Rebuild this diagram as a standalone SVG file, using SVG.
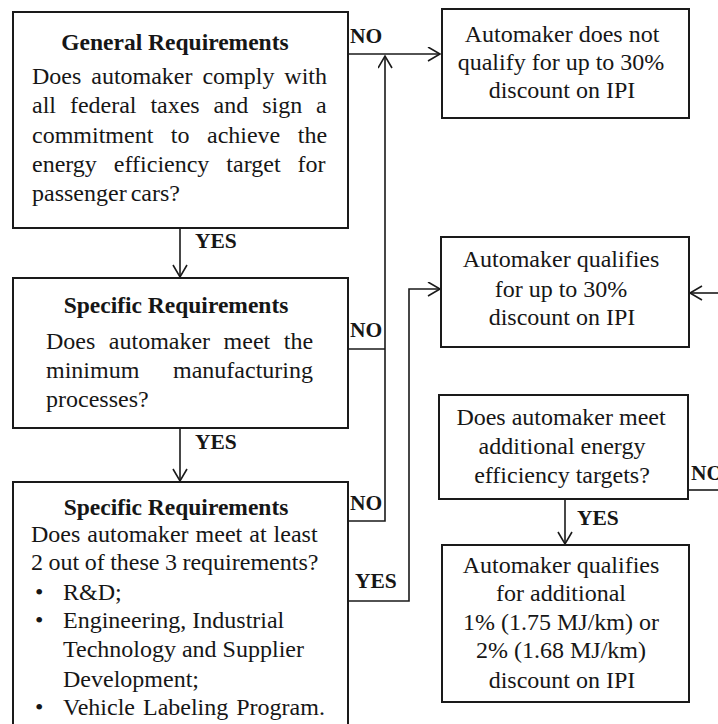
<svg xmlns="http://www.w3.org/2000/svg" width="718" height="724" viewBox="0 0 718 724">
<style>
text{font-family:"Liberation Serif","Times New Roman",serif;fill:#161616;font-size:24px}
.t{font-weight:bold;font-size:23.5px}
.lab{font-weight:bold;font-size:21.5px}
.c{text-anchor:middle}
.box{fill:#fff;stroke:#1a1a1a;stroke-width:2}
.con{fill:none;stroke:#1a1a1a;stroke-width:1.6}
</style>
<defs>
<marker id="ah" markerUnits="userSpaceOnUse" markerWidth="15" markerHeight="17" refX="13" refY="7.5" orient="auto">
<path d="M1,0.5 L13,7.5 L1,14.5" fill="none" stroke="#1a1a1a" stroke-width="1.6"/>
</marker>
</defs>
<rect width="718" height="724" fill="#fff"/>
<g id="connectors">
<path class="con" d="M348,54 H440" marker-end="url(#ah)"/>
<path class="con" d="M348,349 H385"/>
<path class="con" d="M348,521 H385 V56" marker-end="url(#ah)"/>
<path class="con" d="M348,601 H409 V289 H440" marker-end="url(#ah)"/>
<path class="con" d="M180,228 V277" marker-end="url(#ah)"/>
<path class="con" d="M180,428 V481" marker-end="url(#ah)"/>
<path class="con" d="M688,490 H718"/>
<path class="con" d="M718,293 H690" marker-end="url(#ah)"/>
<path class="con" d="M565,499 V544" marker-end="url(#ah)"/>
<text class="lab" x="350" y="43">NO</text>
<text class="lab" x="350" y="337">NO</text>
<text class="lab" x="350" y="510">NO</text>
<text class="lab" x="355" y="588">YES</text>
<text class="lab" x="195" y="248">YES</text>
<text class="lab" x="195" y="449">YES</text>
<text class="lab" x="691" y="480">NO</text>
<text class="lab" x="577" y="525">YES</text>
</g>
<g id="general">
<rect class="box" x="13" y="12" width="335" height="216"/>
<text class="t c" x="175" y="50">General Requirements</text>
<text x="32" y="84" word-spacing="3.9">Does automaker comply with</text>
<text x="32" y="113" word-spacing="7.9">all federal taxes and sign a</text>
<text x="32" y="143" word-spacing="11.5">commitment to achieve the</text>
<text x="32" y="172" word-spacing="11">energy efficiency target for</text>
<text x="32" y="201" word-spacing="-2">passenger cars?</text>
</g>
<g id="specific1">
<rect class="box" x="13" y="278" width="335" height="150"/>
<text class="t c" x="176" y="313">Specific Requirements</text>
<text x="46" y="349" word-spacing="7.5">Does automaker meet the</text>
<text x="46" y="378" word-spacing="27.7">minimum manufacturing</text>
<text x="46" y="407">processes?</text>
</g>
<g id="specific2">
<rect class="box" x="13" y="482" width="335" height="260"/>
<text class="t c" x="176" y="515">Specific Requirements</text>
<text x="31" y="542" word-spacing="1">Does automaker meet at least</text>
<text x="31" y="570" word-spacing="-0.5">2 out of these 3 requirements?</text>
<text x="35" y="600">•</text>
<text x="63" y="600">R&amp;D;</text>
<text x="35" y="628">•</text>
<text x="63" y="628">Engineering, Industrial</text>
<text x="63" y="657">Technology and Supplier</text>
<text x="63" y="687">Development;</text>
<text x="35" y="715">•</text>
<text x="63" y="715" word-spacing="2">Vehicle Labeling Program.</text>
</g>
<g id="not-qualify">
<rect class="box" x="442" y="9" width="247" height="109"/>
<text class="c" x="562" y="42">Automaker does not</text>
<text class="c" x="561" y="70">qualify for up to 30%</text>
<text class="c" x="562" y="98">discount on IPI</text>
</g>
<g id="qualifies">
<rect class="box" x="441" y="237" width="248" height="110"/>
<text class="c" x="561" y="267">Automaker qualifies</text>
<text class="c" x="561" y="297">for up to 30%</text>
<text class="c" x="562" y="325">discount on IPI</text>
</g>
<g id="additional-q">
<rect class="box" x="439" y="395" width="249" height="104"/>
<text class="c" x="561" y="425">Does automaker meet</text>
<text class="c" x="562" y="454">additional energy</text>
<text class="c" x="562" y="483">efficiency targets?</text>
</g>
<g id="additional">
<rect class="box" x="442" y="545" width="247" height="157"/>
<text class="c" x="561" y="573">Automaker qualifies</text>
<text class="c" x="561" y="601">for additional</text>
<text class="c" x="561" y="630">1% (1.75 MJ/km) or</text>
<text class="c" x="561" y="658">2% (1.68 MJ/km)</text>
<text class="c" x="562" y="688">discount on IPI</text>
</g>
</svg>
